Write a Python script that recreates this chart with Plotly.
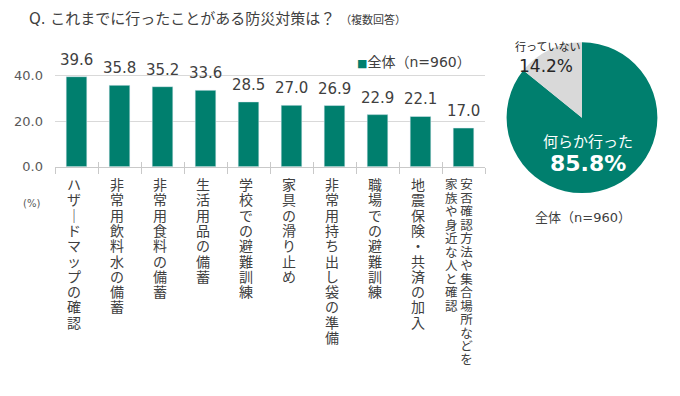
import plotly.graph_objects as go

# ---- data ----
categories = [
    "ハザードマップの確認",
    "非常用飲料水の備蓄",
    "非常用食料の備蓄",
    "生活用品の備蓄",
    "学校での避難訓練",
    "家具の滑り止め",
    "非常用持ち出し袋の準備",
    "職場での避難訓練",
    "地震保険・共済の加入",
    "安否確認方法や集合場所などを\n家族や身近な人と確認",
]
values = [39.6, 35.8, 35.2, 33.6, 28.5, 27.0, 26.9, 22.9, 22.1, 17.0]
series_name = "全体（n=960）"

pie_labels = ["何らか行った", "行っていない"]
pie_values = [85.8, 14.2]
pie_caption = "全体（n=960）"

y_ticks = [0, 20, 40]

title_main = "Q. これまでに行ったことがある防災対策は？"
title_sub = "（複数回答）"
unit_label = "(%)"

GREEN = "#007F6E"
GRAY_SLICE = "#D9D9D9"
TEXT = "#404040"
FONT = "DejaVu Sans, Noto Sans CJK JP"
CJK = "Noto Sans CJK JP"

# the page body has an 8px margin; the figure fills the rest of the 680x396 window
OFF = 8
W, H = 680 - OFF, 396 - OFF


def px_x(x):
    return (x - OFF) / W


def px_y(y):
    return 1 - (y - OFF) / H


def tategaki(label, glyph_px):
    """Vertical text: one character per line, columns read right-to-left."""
    cols = [c.replace("ー", "｜") for c in label.split("\n")]
    rows = []
    for k in range(max(len(c) for c in cols)):
        cells = [c[k] if k < len(c) else "　" for c in reversed(cols)]
        rows.append(f"<span style='font-size:{glyph_px}px'>{' '.join(cells)}</span>")
    return "<br>".join(rows)


n = len(categories)
xs = list(range(n))
boundaries = [i - 0.5 for i in range(n + 1)]

fig = go.Figure()

fig.add_trace(go.Bar(
    x=xs,
    y=values,
    name=series_name,
    marker_color=GREEN,
    width=0.48,
    showlegend=False,
    hovertext=categories,
    xaxis="x", yaxis="y",
))

# invisible helper trace so the overlay axis (inner half of the tick marks) is drawn
fig.add_trace(go.Scatter(
    x=[boundaries[0], boundaries[-1]], y=[0, 0], mode="lines",
    line=dict(width=0), opacity=0, hoverinfo="skip", showlegend=False,
    xaxis="x2", yaxis="y",
))

fig.add_trace(go.Pie(
    labels=pie_labels,
    values=pie_values,
    sort=False,
    direction="clockwise",
    rotation=0,
    marker=dict(colors=[GREEN, GRAY_SLICE], line=dict(color="white", width=0)),
    textinfo="none",
    hoverinfo="label+percent",
    showlegend=False,
    domain=dict(x=[px_x(505), px_x(659)], y=[px_y(197), px_y(43)]),
))

axis_gray = "#C9C9C9"
Y0, PXU = 170, 2.32
fig.update_layout(
    width=W, height=H,
    margin=dict(l=0, r=0, t=0, b=0),
    paper_bgcolor="white",
    plot_bgcolor="white",
    font=dict(family=FONT, color=TEXT),
    showlegend=False,
    xaxis=dict(
        domain=[px_x(55), px_x(485)],
        range=[boundaries[0], boundaries[-1]],
        tickmode="array",
        tickvals=boundaries,
        ticktext=[""] * len(boundaries),
        ticks="outside",
        ticklen=6,
        tickcolor=axis_gray,
        showticklabels=False,
        showline=True,
        linecolor=axis_gray,
        linewidth=1,
        showgrid=False,
        zeroline=False,
        anchor="y",
    ),
    xaxis2=dict(
        overlaying="x",
        matches="x",
        range=[boundaries[0], boundaries[-1]],
        tickmode="array",
        tickvals=boundaries,
        ticktext=[""] * len(boundaries),
        ticks="inside",
        ticklen=5,
        tickcolor=axis_gray,
        showticklabels=False,
        showline=False,
        showgrid=False,
        zeroline=False,
        side="bottom",
        anchor="y",
    ),
    yaxis=dict(
        domain=[px_y(Y0), px_y(Y0 - 45 * PXU)],
        range=[0, 45],
        tickmode="array",
        tickvals=y_ticks,
        ticktext=[f"{v:.1f}" for v in y_ticks],
        showgrid=True,
        gridcolor="#D9D9D9",
        gridwidth=1,
        zeroline=False,
        showline=False,
        ticks="",
        ticklabelstandoff=11,
        tickfont=dict(family=FONT, size=13, color="#595959"),
        anchor="x",
    ),
)

annotations = []

# value labels above bars
for i, v in enumerate(values):
    annotations.append(dict(
        x=i, y=v, xref="x", yref="y", xanchor="center", yanchor="bottom",
        yshift=6, text=f"{v:.1f}", showarrow=False,
        font=dict(family=FONT, size=15, color=TEXT)))

# vertical (tategaki) category labels below the axis
for i, label in enumerate(categories):
    two_col = "\n" in label
    adv, glyph, xshift = (13.5, 12.5, -5) if two_col else (15.3, 14, -3)
    annotations.append(dict(
        x=i, y=px_y(175), xref="x", yref="paper",
        xanchor="center", yanchor="top", xshift=xshift,
        text=tategaki(label, glyph), align="center", showarrow=False,
        font=dict(family=CJK, size=adv / 1.3, color=TEXT)))

# legend-like label
annotations.append(dict(
    x=px_x(355), y=px_y(63), xref="paper", yref="paper", xanchor="left", yanchor="middle",
    text=f"<span style='color:{GREEN};font-size:11px'>■</span>{series_name}",
    showarrow=False, font=dict(family=FONT, size=14, color=TEXT)))

annotations += [
    dict(x=px_x(27), y=px_y(19), xref="paper", yref="paper", xanchor="left", yanchor="middle",
         text=f"{title_main} <span style='font-size:11px'>{title_sub}</span>",
         showarrow=False, font=dict(family=FONT, size=15, color=TEXT)),
    dict(x=px_x(31), y=px_y(208), xref="paper", yref="paper", xanchor="center", yanchor="middle",
         text=unit_label, showarrow=False, font=dict(family=FONT, size=10, color="#595959")),
    dict(x=px_x(588), y=px_y(143), xref="paper", yref="paper", xanchor="center", yanchor="middle",
         text=pie_labels[0], showarrow=False, font=dict(family=CJK, size=15, color="white")),
    dict(x=px_x(588), y=px_y(167), xref="paper", yref="paper", xanchor="center", yanchor="middle",
         text=f"<b>{pie_values[0]:.1f}%</b>", showarrow=False, font=dict(family=FONT, size=22, color="white")),
    dict(x=px_x(547), y=px_y(47), xref="paper", yref="paper", xanchor="center", yanchor="middle",
         text=pie_labels[1], showarrow=False, font=dict(family=CJK, size=11, color="#262626")),
    dict(x=px_x(546), y=px_y(67), xref="paper", yref="paper", xanchor="center", yanchor="middle",
         text=f"{pie_values[1]:.1f}%", showarrow=False, font=dict(family=FONT, size=17, color="#262626")),
    dict(x=px_x(583), y=px_y(222), xref="paper", yref="paper", xanchor="center", yanchor="middle",
         text=pie_caption, showarrow=False, font=dict(family=FONT, size=13, color=TEXT)),
]
fig.update_layout(annotations=annotations)

fig.write_html("out.html")
